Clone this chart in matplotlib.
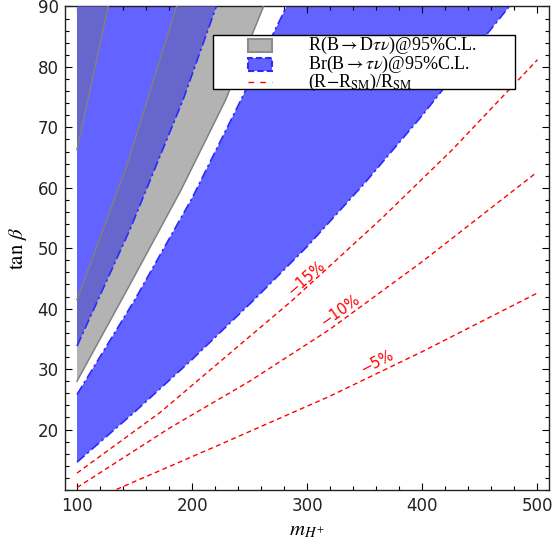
import numpy as np
import matplotlib
matplotlib.use("Agg")
from matplotlib import pyplot as plt
from matplotlib.patches import Rectangle
from matplotlib.ticker import MultipleLocator

# region boundaries (m_H+, tan beta)
top_y = 90

# gray band R(B->D tau nu): left-most piece above line A, second piece between D and B
line_a_x = [100, 127]
line_a_y = [66.3, 90]
line_b_x = [100, 143, 186.5]
line_b_y = [41.5, 63.5, 90]
line_d_x = [100, 146, 190, 229, 262]
line_d_y = [28.0, 44.0, 59.5, 74.5, 90]

# blue Br(B->tau nu): region above C, and band between F and E
line_c_x = [100, 146, 192, 221]
line_c_y = [33.8, 53.1, 74.5, 90]
line_e_x = [100, 150, 200, 241, 282]
line_e_y = [25.8, 41.4, 58.3, 74.0, 90]
line_f_x = [100, 150, 200, 254, 300, 350, 400, 450, 475.5]
line_f_y = [14.6, 22.9, 31.6, 41.5, 50.3, 60.8, 72.0, 84.0, 90]

# (R - R_SM)/R_SM contours
m15_x = [100, 172, 250, 286, 365, 426, 500]
m15_y = [12.8, 22.8, 35.4, 41.2, 55.0, 66.3, 81.2]
m10_x = [100, 180, 250, 319, 400, 499]
m10_y = [10.4, 20.2, 28.0, 36.5, 47.8, 62.5]
m5_x = [134.4, 224, 319.4, 400, 500]
m5_y = [10.1, 17.5, 25.5, 32.9, 42.6]
contour_labels = ["\u221215%", "\u221210%", "\u22125%"]
label_pos = [(299.4, 45.0), (328.5, 39.7), (360.8, 31.2)]
label_rot = [41, 35, 27]

legend_labels = [
    r"R(B$\rightarrow$D$\tau\nu$)@95%C.L.",
    r"Br(B$\rightarrow$$\tau\nu$)@95%C.L.",
    r"(R$-$R$_{\mathrm{SM}}$)/R$_{\mathrm{SM}}$",
]

blue = "#6363ff"
gray = "#b3b3b3"
dark = "#6666cc"
edge_blue = "#2a2aff"
edge_gray = "#808080"

plt.rcParams["mathtext.fontset"] = "stix"

fig = plt.figure(figsize=(5.56, 5.41), dpi=100)
ax = fig.add_axes([0.1178, 0.0943, 0.8696, 0.8937])


def band(lower_x, lower_y, upper_x, upper_y):
    # closed polygon: lower curve forward, upper curve backward
    xs = list(lower_x) + list(upper_x[::-1])
    ys = list(lower_y) + list(upper_y[::-1])
    return xs, ys


# blue piece above C
xs, ys = band(line_c_x, line_c_y, [line_c_x[0], line_c_x[-1]], [top_y, top_y])
ax.fill(xs, ys, color=blue, lw=0, zorder=1)
# gray piece between D and B
xs, ys = band(line_d_x, line_d_y, line_b_x, line_b_y)
ax.fill(xs, ys, color=gray, lw=0, zorder=2)
# overlap between C and B
xs, ys = band(line_c_x, line_c_y, line_b_x, line_b_y)
ax.fill(xs, ys, color=dark, lw=0, zorder=3)
# overlap above A
xs, ys = band(line_a_x, line_a_y, [line_a_x[0], line_a_x[-1]], [top_y, top_y])
ax.fill(xs, ys, color=dark, lw=0, zorder=3)
# big blue band between F and E
xs, ys = band(line_f_x, line_f_y, line_e_x, line_e_y)
ax.fill(xs, ys, color=blue, lw=0, zorder=1)

dash_blue = (0, (6, 2, 1.5, 2))
for lx, ly in [(line_c_x, line_c_y), (line_e_x, line_e_y), (line_f_x, line_f_y)]:
    ax.plot(lx, ly, color=edge_blue, lw=1.2, ls=dash_blue, zorder=4)
for lx, ly in [(line_a_x, line_a_y), (line_b_x, line_b_y), (line_d_x, line_d_y)]:
    ax.plot(lx, ly, color=edge_gray, lw=1.1, zorder=4)

red_dash = (0, (3.5, 2.5))
for lx, ly in [(m15_x, m15_y), (m10_x, m10_y), (m5_x, m5_y)]:
    ax.plot(lx, ly, color="red", lw=1.0, ls=red_dash, zorder=4)
for txt, (px, py), rot in zip(contour_labels, label_pos, label_rot):
    ax.text(px, py, txt, color="red", fontsize=10.5, rotation=rot,
            ha="center", va="center", rotation_mode="anchor", zorder=5)

ax.set_xlim(90, 510)
ax.set_ylim(10, 90)
ax.xaxis.set_major_locator(MultipleLocator(100))
ax.xaxis.set_minor_locator(MultipleLocator(20))
ax.yaxis.set_major_locator(MultipleLocator(10))
ax.yaxis.set_minor_locator(MultipleLocator(2))
ax.set_yticks(np.arange(20, 91, 10))
ax.tick_params(which="both", direction="in", top=True, right=True,
               labelsize=12, labelcolor="#222222", width=0.8)
ax.tick_params(which="major", length=5, pad=5)
ax.tick_params(which="minor", length=3)
for s in ax.spines.values():
    s.set_linewidth(1.0)
    s.set_color("#222222")

ax.set_xlabel(r"$m_{H^{+}}$", fontsize=15, labelpad=4)
ax.set_ylabel(r"$\tan\,\beta$", fontsize=15, labelpad=6)

# legend drawn by hand (box, swatches, labels) in axes fractions
tr = ax.transAxes
ax.add_patch(Rectangle((0.305, 0.829), 0.625, 0.112, transform=tr,
                       facecolor="white", edgecolor="black", lw=1.0, zorder=6))
rows = [0.919, 0.881, 0.843]
hx0, hx1, hh = 0.3774, 0.4271, 0.027
ax.add_patch(Rectangle((hx0, rows[0] - hh / 2), hx1 - hx0, hh, transform=tr,
                       facecolor=gray, edgecolor="#8c8c8c", lw=1.5, zorder=7))
ax.add_patch(Rectangle((hx0, rows[1] - hh / 2), hx1 - hx0, hh, transform=tr,
                       facecolor=blue, edgecolor=edge_blue, lw=1.5, ls=(0, (3, 1.5)),
                       zorder=7))
ax.plot([hx0, hx1], [rows[2], rows[2]], transform=tr, color="red", lw=1.0,
        ls=(0, (4, 4.5)), zorder=7)
for r, lab in zip(rows, legend_labels):
    ax.text(0.5016, r, lab, transform=tr, ha="left", va="center",
            family="Liberation Serif", fontsize=13, zorder=8)

fig.savefig("out.png", dpi=100)
